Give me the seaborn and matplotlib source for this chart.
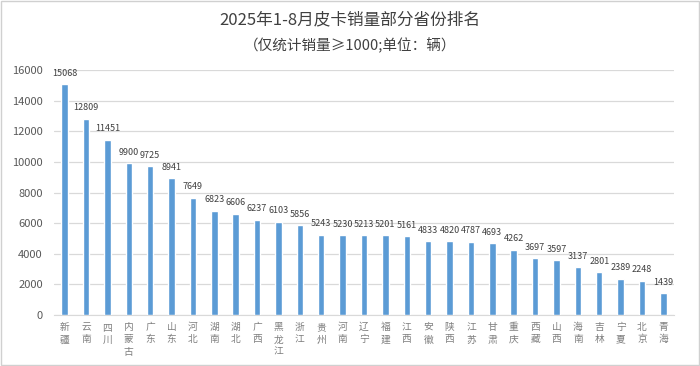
import matplotlib
matplotlib.use("Agg")
import matplotlib.pyplot as plt
import seaborn as sns
import pandas as pd

sns.set_style("white")
plt.rcParams["font.family"] = ["Noto Sans CJK SC", "DejaVu Sans"]

BLUE = "#5B9BD5"
GRAY = "#595959"

provinces = ["新疆", "云南", "四川", "内蒙古", "广东", "山东", "河北", "湖南", "湖北", "广西",
             "黑龙江", "浙江", "贵州", "河南", "辽宁", "福建", "江西", "安徽", "陕西", "江苏",
             "甘肃", "重庆", "西藏", "山西", "海南", "吉林", "宁夏", "北京", "青海"]
sales = [15068, 12809, 11451, 9900, 9725, 8941, 7649, 6823, 6606, 6237,
         6103, 5856, 5243, 5230, 5213, 5201, 5161, 4833, 4820, 4787,
         4693, 4262, 3697, 3597, 3137, 2801, 2389, 2248, 1439]
yticks = list(range(0, 16001, 2000))

df = pd.DataFrame({"province": provinces, "sales": sales})

fig = plt.figure(figsize=(7, 3.66), dpi=100)
ax = fig.add_axes([0.077, 0.139, 0.886, 0.67])

sns.barplot(data=df, x="province", y="sales", color=BLUE, width=0.3,
            saturation=1, ax=ax, zorder=3)

# value labels above each bar
for i, v in enumerate(sales):
    ax.text(i, v + 420, str(v), ha="center", va="bottom", fontsize=6.5, color="#404040")

ax.set_ylim(0, 16000)
ax.set_yticks(yticks)
ax.set_yticklabels([str(t) for t in yticks], fontsize=8, color=GRAY)
ax.set_xticks(range(len(provinces)))
ax.set_xticklabels(["\n".join(p) for p in provinces], fontsize=7, color="#7f7f7f",
                   va="top", linespacing=1.3)
ax.tick_params(axis="y", length=0, pad=8)
ax.tick_params(axis="x", length=0, pad=5)
ax.set_xlabel("")
ax.set_ylabel("")
ax.set_xlim(-0.5, len(provinces) - 0.5)

ax.grid(axis="y", color="#d9d9d9", lw=0.9, zorder=0)
for s in ["top", "right", "left"]:
    ax.spines[s].set_visible(False)
ax.spines["bottom"].set_color("#d9d9d9")

fig.text(0.5, 0.945, "2025年1-8月皮卡销量部分省份排名", ha="center", va="center",
         fontsize=12, color="#404040")
fig.text(0.5, 0.877, "（仅统计销量≥1000;单位：辆）", ha="center", va="center",
         fontsize=10.5, color="#404040")

fig.patches.append(plt.Rectangle((0.002, 0.004), 0.996, 0.992, transform=fig.transFigure,
                                 fill=False, ec="#d0d0d0", lw=1))

fig.savefig("out.png", dpi=100, facecolor="w")
